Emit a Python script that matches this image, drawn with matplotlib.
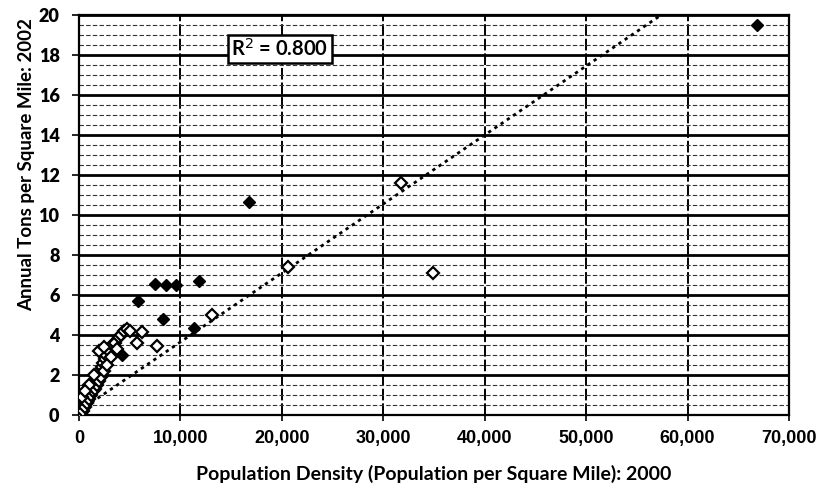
import matplotlib
matplotlib.use("Agg")
import matplotlib.pyplot as plt
import numpy as np

# Filled diamond markers (x: population density, y: annual tons per sq mile)
filled_x = [5790, 7490, 8580, 9560, 11860, 8250, 11370, 16800, 4200, 66810]
filled_y = [5.70, 6.53, 6.52, 6.50, 6.70, 4.78, 4.37, 10.65, 3.00, 19.50]

# Hollow markers
hollow_x = [200, 300, 400, 500, 600, 700, 800, 900, 1000, 1100, 1200, 1300,
            1400, 1500, 1600, 1700, 1800, 1900, 2000, 2100, 2200, 2300, 2400,
            2500, 2600, 2700, 2800, 3000, 3200, 3300, 3500, 3700, 3900, 4100,
            4400, 4700, 1000, 1500, 300, 600, 2000, 2500,
            5030, 5690, 6180, 7660, 13080, 20640, 31700, 34930]
hollow_y = [0.10, 0.30, 0.20, 0.50, 0.40, 0.80, 0.60, 1.00, 0.80, 1.20, 1.00,
            1.40, 1.20, 1.60, 1.30, 1.80, 1.50, 2.00, 1.70, 2.20, 1.90, 2.40,
            2.60, 2.20, 2.80, 3.00, 2.50, 3.20, 2.90, 3.50, 3.60, 3.30, 3.90,
            4.00, 4.20, 4.30, 1.50, 2.00, 0.90, 1.20, 3.20, 3.40,
            4.20, 3.58, 4.13, 3.47, 4.98, 7.42, 11.58, 7.08]

# Trendline
trend_slope = 0.000345
trend_intercept = 0.2
r2_text = "R$^2$ = 0.800"

x_ticks = [0, 10000, 20000, 30000, 40000, 50000, 60000, 70000]
x_tick_labels = ["0", "10,000", "20,000", "30,000", "40,000", "50,000", "60,000", "70,000"]
y_ticks = [0, 2, 4, 6, 8, 10, 12, 14, 16, 18, 20]

fig = plt.figure(figsize=(8.16, 4.94), dpi=100)
ax = fig.add_axes([79/816, 1-415/494, 710/816, 400/494])

ax.set_xlim(0, 70000)
ax.set_ylim(0, 20)

# grid
ax.set_yticks(np.arange(0, 20.01, 0.5), minor=True)
ax.grid(which="minor", axis="y", color="#333333", linestyle=(0, (4, 2)), linewidth=0.8)
ax.grid(which="major", axis="y", color="black", linewidth=2.0)
ax.grid(which="major", axis="x", color="black", linewidth=1.4, linestyle=(0, (6, 1.5)))
ax.set_axisbelow(True)
ax.tick_params(which="minor", length=0)

# trendline
tx = np.array([0, (20 - trend_intercept) / trend_slope])
ty = trend_intercept + trend_slope * tx
ax.plot(tx, ty, linestyle=(0, (1.2, 1.5)), color="black", linewidth=2.0, zorder=3)

ax.plot(hollow_x, hollow_y, linestyle="none", marker="D", markersize=6.5,
        markerfacecolor="white", markeredgecolor="black", markeredgewidth=1.6, zorder=4)
ax.plot(filled_x, filled_y, linestyle="none", marker="D", markersize=6.5,
        markerfacecolor="black", markeredgecolor="black", zorder=5)

ax.text(19820, 18.3, r2_text, ha="center", va="center", fontsize=14.5,
        family=["Lato", "DejaVu Sans"], fontweight="bold",
        bbox=dict(boxstyle="square,pad=0.15", facecolor="white", edgecolor="black", linewidth=1.8),
        zorder=6)

ax.set_xticks(x_ticks)
ax.set_xticklabels(x_tick_labels)
ax.set_yticks(y_ticks)
for lab in ax.get_xticklabels():
    lab.set_family(["Liberation Sans Narrow", "Liberation Sans"])
    lab.set_fontweight("bold")
    lab.set_fontsize(13)
for lab in ax.get_yticklabels():
    lab.set_family(["Lato", "DejaVu Sans"])
    lab.set_fontweight("heavy")
    lab.set_fontsize(13)
ax.tick_params(axis="x", which="major", length=4, pad=7, direction="out", width=1.2)
ax.tick_params(axis="y", which="major", length=5, pad=9, direction="out", width=1.2)

for s in ax.spines.values():
    s.set_linewidth(1.6)
    s.set_color("black")

ax.set_xlabel("Population Density (Population per Square Mile): 2000",
              family=["Lato", "DejaVu Sans"], fontweight="bold", fontsize=14, labelpad=13)
ax.set_ylabel("Annual Tons per Square Mile: 2002",
              family=["Lato", "DejaVu Sans"], fontweight="bold", fontsize=13.5)
ax.yaxis.set_label_coords(-0.062, 0.625)

fig.savefig("out.png", dpi=100)
